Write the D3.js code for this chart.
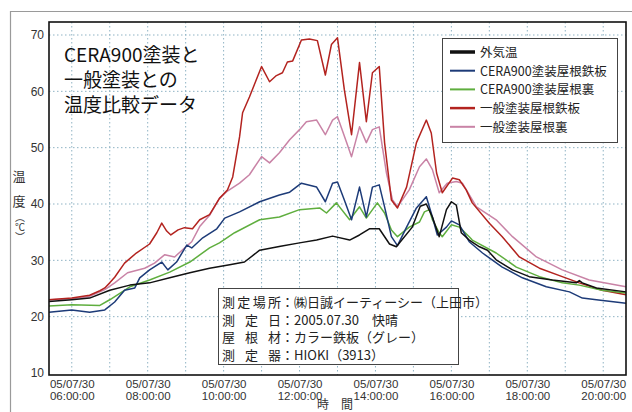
<!DOCTYPE html>
<html lang="ja">
<head>
<meta charset="utf-8">
<script src="https://cdn.jsdelivr.net/npm/d3@7"></script>
<style>
  body { margin: 0; background: #fff; }
  svg text { font-family: "Liberation Sans", Arial, sans-serif; }
  svg .jp { font-family: "Noto Sans CJK JP", sans-serif; }
</style>
</head>
<body>
<script>
// hours of day (decimal) and temperatures
var hoursOutside = [5.40,6.00,6.47,7.00,7.53,8.05,8.58,9.11,9.63,10.16,10.55,10.95,11.50,12.00,12.45,12.87,13.32,13.58,13.84,14.10,14.37,14.55,14.97,15.18,15.34,15.50,15.68,15.87,16.00,16.13,16.26,16.47,16.74,16.95,17.18,17.61,18.05,18.66,19.29,19.37,19.45,19.82,20.60];
var tempOutside  = [22.7,23.0,23.3,24.7,25.6,26.0,26.9,27.8,28.6,29.2,29.7,31.8,32.5,33.1,33.6,34.3,33.6,34.5,35.6,35.6,32.9,32.4,35.9,39.6,40.0,37.7,34.2,39.0,40.4,39.8,34.9,33.6,32.4,31.8,30.1,28.3,27.1,26.5,26.0,26.4,26.0,25.1,24.4];

var hoursCeraRoof = [5.40,6.00,6.47,6.87,7.13,7.39,7.66,7.79,8.05,8.37,8.53,8.76,9.03,9.16,9.45,9.82,10.03,10.42,10.95,11.47,11.74,12.05,12.45,12.68,12.87,13.00,13.18,13.37,13.58,13.76,13.92,14.10,14.24,14.42,14.58,14.82,15.08,15.34,15.50,15.63,15.87,16.00,16.21,16.47,16.82,17.34,17.87,18.50,19.11,19.45,19.82,20.60];
var tempCeraRoof  = [20.8,21.2,20.8,21.2,22.6,24.7,25.1,26.9,28.3,29.7,28.3,29.7,32.7,32.2,34.0,35.6,37.5,38.6,40.4,41.6,42.1,43.7,43.0,40.4,43.7,43.9,40.7,37.2,43.0,37.7,43.0,43.4,39.5,34.2,32.6,35.9,39.3,41.3,37.7,34.5,35.9,37.0,36.3,33.3,31.3,28.8,26.9,25.3,24.4,23.3,23.0,22.4];

var hoursCeraBack = [5.40,6.00,6.74,7.00,7.53,8.05,8.58,9.11,9.63,9.89,10.29,10.95,11.47,12.00,12.53,12.71,12.97,13.32,13.58,13.76,14.05,14.24,14.42,14.58,14.89,15.16,15.29,15.42,15.50,15.68,15.76,16.00,16.21,16.47,16.55,17.18,17.71,18.32,18.92,19.37,19.97,20.60];
var tempCeraBack  = [21.9,22.1,22.0,23.0,25.3,26.5,27.9,29.7,32.2,33.1,34.9,37.2,37.7,39.0,39.3,38.4,40.2,37.2,39.5,37.5,40.2,38.4,35.4,34.2,35.9,36.8,38.6,39.0,37.2,34.9,34.2,36.3,35.9,34.2,33.6,31.3,28.8,27.1,26.0,25.6,24.7,24.2];

var hoursNormalRoof = [5.40,6.00,6.47,6.74,6.87,7.00,7.13,7.39,7.70,8.05,8.24,8.37,8.50,8.61,8.80,8.97,9.18,9.37,9.63,9.89,10.10,10.24,10.42,10.50,10.68,11.00,11.21,11.39,11.55,11.68,11.82,12.05,12.26,12.47,12.68,12.84,13.00,13.18,13.37,13.58,13.76,13.92,14.10,14.24,14.42,14.58,14.82,15.08,15.34,15.47,15.61,15.76,16.03,16.21,16.39,16.55,17.00,17.34,17.79,18.32,18.92,19.37,19.97,20.60];
var tempNormalRoof  = [23.0,23.3,23.8,24.6,25.1,26.0,27.0,29.5,31.3,32.9,34.9,36.6,35.2,34.5,35.4,35.8,35.6,37.2,38.1,41.0,42.5,44.8,51.9,56.2,59.0,64.4,61.7,62.8,63.3,65.2,65.4,69.1,69.3,69.0,62.9,68.3,69.5,60.3,52.3,65.1,54.6,63.3,64.4,50.9,40.7,39.3,43.0,50.9,54.9,52.6,45.5,42.0,44.6,44.3,42.5,40.2,36.6,34.2,30.6,28.6,27.1,26.0,24.7,23.9];

var hoursNormalBack = [5.40,6.00,6.47,6.87,7.13,7.47,7.92,8.18,8.45,8.71,8.97,9.16,9.37,9.63,9.89,10.10,10.42,10.68,11.00,11.21,11.47,11.74,12.00,12.18,12.45,12.68,12.87,13.00,13.24,13.37,13.58,13.76,13.92,14.10,14.29,14.45,14.58,14.89,15.16,15.34,15.50,15.68,15.89,16.13,16.29,16.66,17.18,17.61,18.24,18.92,19.63,20.60];
var tempNormalBack  = [23.0,23.2,23.6,24.8,26.0,27.8,28.6,29.5,31.0,30.6,32.2,33.3,36.0,38.0,41.0,42.3,43.7,45.2,48.4,47.3,49.1,51.4,53.2,54.6,54.9,52.3,54.9,55.5,50.9,48.4,53.7,50.9,53.2,53.7,45.5,40.7,39.5,42.5,46.6,48.0,46.1,42.0,43.7,44.0,43.7,39.5,37.2,34.2,30.6,28.3,26.5,25.3];

var seriesNames  = ["外気温", "CERA900塗装屋根鉄板", "CERA900塗装屋根裏", "一般塗装屋根鉄板", "一般塗装屋根裏"];
var seriesColors = ["#111111", "#1d3b78", "#5fae3e", "#b3231f", "#c983a6"];

var xTickHours = [6, 8, 10, 12, 14, 16, 18, 20];
var xGridHours = d3.range(6, 21, 1);
var yTicks = [10, 20, 30, 40, 50, 60, 70];

var titleLines = ["CERA900塗装と", "一般塗装との", "温度比較データ"];
var infoLabels = ["測定場所", "測定日", "屋根材", "測定器"];
var infoValues = ["㈱日誠イーティーシー（上田市）", "2005.07.30　快晴", "カラー鉄板（グレー）", "HIOKI（3913）"];

var w = 632, h = 412;
var plot = { left: 49, right: 626, top: 22, bottom: 375 };

var series = [
  { h: hoursOutside,    t: tempOutside },
  { h: hoursCeraRoof,   t: tempCeraRoof },
  { h: hoursCeraBack,   t: tempCeraBack },
  { h: hoursNormalRoof, t: tempNormalRoof },
  { h: hoursNormalBack, t: tempNormalBack }
].map(function(s, i) {
  return { name: seriesNames[i], color: seriesColors[i],
           pts: s.h.map(function(v, j) { return [v, s.t[j]]; }) };
});

var x = d3.scaleLinear().domain([5.4, 20.6]).range([plot.left, plot.right]);
var y = d3.scaleLinear().domain([10, 70]).range([373, 35]);

var svg = d3.select("body").append("svg").attr("width", w).attr("height", h);

// scanned page border
svg.append("path").attr("d", "M10.5,412 V11.5 H632")
  .attr("fill", "none").attr("stroke", "#9a9a9a").attr("stroke-width", 1.2);

// grid
var grid = svg.append("g").attr("stroke", "#8fb3c4").attr("stroke-width", 1)
  .attr("stroke-dasharray", "1.5,2.5");
grid.selectAll("line.v").data(xGridHours).enter().append("line")
  .attr("x1", function(d) { return x(d); }).attr("x2", function(d) { return x(d); })
  .attr("y1", plot.top).attr("y2", plot.bottom);
grid.selectAll("line.h").data(yTicks.slice(1)).enter().append("line")
  .attr("y1", function(d) { return y(d); }).attr("y2", function(d) { return y(d); })
  .attr("x1", plot.left).attr("x2", plot.right);

// y axis labels
var yAxis = d3.axisLeft(y).tickValues(yTicks).tickSize(0).tickPadding(5);
svg.append("g").attr("transform", "translate(" + plot.left + ",0)").call(yAxis)
  .call(function(g) { g.select(".domain").remove(); })
  .selectAll("text").attr("font-size", 12).attr("fill", "#333")
  .style("font-family", "'Liberation Sans', Arial, sans-serif");

// x axis labels (two lines)
var xAxis = d3.axisBottom(x).tickValues(xTickHours).tickSize(0).tickFormat("");
var xg = svg.append("g").attr("transform", "translate(0," + plot.bottom + ")").call(xAxis);
xg.select(".domain").remove();
xg.selectAll(".tick").each(function(d) {
  var t = d3.select(this).append("text").attr("fill", "#333").attr("font-size", 11.5)
    .attr("text-anchor", "middle");
  t.append("tspan").attr("x", 0).attr("y", 13).text("05/07/30");
  t.append("tspan").attr("x", 0).attr("y", 25).text(d3.format("02")(d) + ":00:00");
});

// axis titles
var yTitle = svg.append("g").attr("fill", "#333").attr("text-anchor", "middle");
yTitle.append("text").attr("class", "jp").attr("x", 19).attr("y", 181).attr("font-size", 13).text("温");
yTitle.append("text").attr("class", "jp").attr("x", 19).attr("y", 206).attr("font-size", 13).text("度");
// unit in vertical writing so the brackets turn like the scan
yTitle.append("text").attr("class", "jp").attr("x", 20).attr("y", 212)
  .attr("font-size", 10).attr("text-anchor", "start")
  .style("writing-mode", "vertical-rl").text("（℃）");
svg.append("text").attr("class", "jp").attr("x", 335).attr("y", 409).attr("fill", "#333")
  .attr("font-size", 12).attr("text-anchor", "middle").text("時　間");

// data lines
var line = d3.line().x(function(d) { return x(d[0]); }).y(function(d) { return y(d[1]); });
svg.append("g").selectAll("path").data(series.slice().reverse()).enter().append("path")
  .attr("d", function(d) { return line(d.pts); })
  .attr("fill", "none").attr("stroke", function(d) { return d.color; })
  .attr("stroke-width", 1.5).attr("stroke-linejoin", "round");

// plot frame
svg.append("rect").attr("x", plot.left).attr("y", plot.top)
  .attr("width", plot.right - plot.left).attr("height", plot.bottom - plot.top)
  .attr("fill", "none").attr("stroke", "#111").attr("stroke-width", 1.6);

// title
svg.append("g").selectAll("text").data(titleLines).enter().append("text").attr("class", "jp")
  .attr("x", 64).attr("y", function(d, i) { return 62 + i * 25; })
  .attr("font-size", 19).attr("fill", "#111").text(function(d) { return d; });

// legend
var lg = svg.append("g");
lg.append("rect").attr("x", 442.5).attr("y", 38.5).attr("width", 175).attr("height", 104)
  .attr("fill", "#fff").attr("stroke", "#444").attr("stroke-width", 1);
var li = lg.selectAll("g.item").data(series).enter().append("g")
  .attr("transform", function(d, i) { return "translate(0," + (52 + i * 18.7) + ")"; });
li.append("line").attr("x1", 450).attr("x2", 475)
  .attr("stroke", function(d) { return d.color; })
  .attr("stroke-width", function(d, i) { return i === 0 ? 3.5 : (i === 3 ? 2.5 : 2); });
li.append("text").attr("class", "jp").attr("x", 480).attr("y", 5).attr("font-size", 12.5)
  .attr("fill", "#222").text(function(d) { return d.name; });

// measurement info box
var ib = svg.append("g");
ib.append("rect").attr("x", 218.5).attr("y", 288.5).attr("width", 240).attr("height", 76)
  .attr("fill", "#fff").attr("stroke", "#444").attr("stroke-width", 1);
infoLabels.forEach(function(lab, i) {
  var yy = 307 + i * 17.5;
  var chars = lab.split("");
  var step = chars.length > 1 ? 46 / (chars.length - 1) : 0;
  chars.forEach(function(c, j) {
    ib.append("text").attr("class", "jp").attr("x", 222 + j * step).attr("y", yy)
      .attr("font-size", 13).attr("fill", "#222").text(c);
  });
  ib.append("text").attr("class", "jp").attr("x", 281).attr("y", yy)
    .attr("font-size", 13).attr("fill", "#222").text("：" + infoValues[i]);
});
</script>
</body>
</html>
